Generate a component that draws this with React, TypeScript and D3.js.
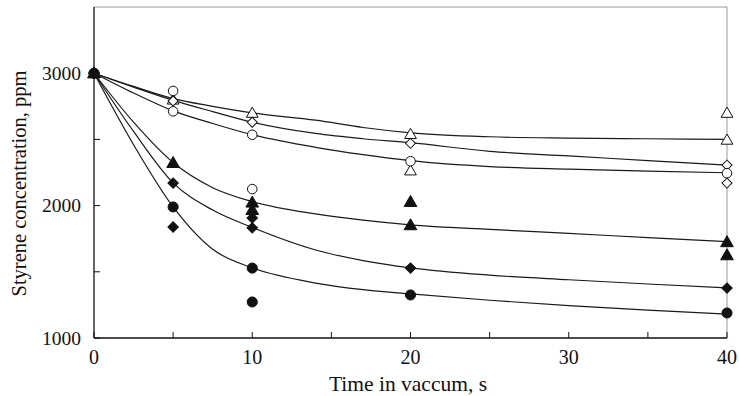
import React, { useEffect, useRef } from 'react';
import * as d3 from 'd3';

// fitted curves (time s, ppm)
const curveTimes = [0, 2.5, 5, 7.5, 10, 14, 17, 20, 25, 30, 35, 40];
const curveOpenTriangle = [3000, 2900, 2808, 2750, 2700, 2645, 2590, 2550, 2520, 2510, 2505, 2500];
const curveOpenDiamond = [3000, 2895, 2795, 2710, 2630, 2545, 2505, 2475, 2410, 2375, 2340, 2305];
const curveOpenCircle = [3000, 2850, 2715, 2620, 2535, 2440, 2385, 2340, 2295, 2275, 2260, 2248];
const curveFilledTriangle = [3000, 2630, 2325, 2135, 2030, 1937, 1890, 1855, 1820, 1790, 1758, 1728];
const curveFilledDiamond = [3000, 2560, 2172, 1966, 1835, 1665, 1585, 1530, 1475, 1440, 1408, 1378];
const curveFilledCircle = [3000, 2460, 1990, 1670, 1530, 1415, 1365, 1333, 1285, 1245, 1210, 1180];

// measured points
const ptsOpenTriangle: [number, number][] = [[0, 3000], [5, 2800], [10, 2700], [20, 2540], [20, 2265], [40, 2700], [40, 2497]];
const ptsOpenDiamond: [number, number][] = [[0, 3000], [5, 2790], [10, 2630], [20, 2470], [40, 2306], [40, 2170]];
const ptsOpenCircle: [number, number][] = [[0, 3000], [5, 2866], [5, 2712], [10, 2535], [10, 2125], [20, 2335], [40, 2245]];
const ptsFilledTriangle: [number, number][] = [[0, 3000], [5, 2323], [10, 2024], [10, 1968], [20, 2029], [20, 1853], [40, 1725], [40, 1626]];
const ptsFilledDiamond: [number, number][] = [[0, 3000], [5, 2170], [5, 1838], [10, 1907], [10, 1832], [20, 1528], [40, 1377]];
const ptsFilledCircle: [number, number][] = [[0, 3000], [5, 1990], [10, 1528], [10, 1272], [20, 1325], [40, 1189]];

const xTicks = [0, 5, 10, 15, 20, 25, 30, 35, 40];
const xLabels = [0, 10, 20, 30, 40];
const yTicks = [1000, 1500, 2000, 2500, 3000];
const yLabels = [1000, 2000, 3000];

const App = () => {
  const ref = useRef<SVGSVGElement>(null);

  useEffect(() => {
    const width = 739;
    const height = 396;
    const svg = d3.select(ref.current);
    svg.selectAll('*').remove();

    const x = d3.scaleLinear().domain([0, 40]).range([94, 727]);
    const y = d3.scaleLinear().domain([1000, 3500]).range([338, 7]);
    const font = '"Liberation Serif", "Times New Roman", serif';

    // frame: top/right grey, left/bottom black
    svg.append('line').attr('x1', x(0)).attr('x2', x(40)).attr('y1', y(3500)).attr('y2', y(3500))
      .attr('stroke', '#999').attr('stroke-width', 1);
    svg.append('line').attr('x1', x(40)).attr('x2', x(40)).attr('y1', y(3500)).attr('y2', y(1000))
      .attr('stroke', '#999').attr('stroke-width', 1);
    svg.append('line').attr('x1', x(0)).attr('x2', x(0)).attr('y1', y(3500)).attr('y2', y(1000))
      .attr('stroke', '#111').attr('stroke-width', 1.3);
    svg.append('line').attr('x1', x(0)).attr('x2', x(40)).attr('y1', y(1000)).attr('y2', y(1000))
      .attr('stroke', '#111').attr('stroke-width', 1.3);

    // ticks (inward)
    svg.selectAll('.xt').data(xTicks).enter().append('line')
      .attr('x1', d => x(d)).attr('x2', d => x(d))
      .attr('y1', y(1000)).attr('y2', y(1000) - 6)
      .attr('stroke', '#111');
    svg.selectAll('.yt').data(yTicks).enter().append('line')
      .attr('x1', x(0)).attr('x2', x(0) + 6)
      .attr('y1', d => y(d)).attr('y2', d => y(d))
      .attr('stroke', '#111');

    svg.selectAll('.xl').data(xLabels).enter().append('text')
      .attr('x', d => x(d)).attr('y', 364)
      .attr('text-anchor', 'middle')
      .attr('font-family', font).attr('font-size', 20)
      .attr('fill', '#111')
      .text(d => d);
    svg.selectAll('.yl').data(yLabels).enter().append('text')
      .attr('x', 81).attr('y', d => y(d))
      .attr('dy', '0.35em')
      .attr('text-anchor', 'end')
      .attr('font-family', font).attr('font-size', 19.5)
      .attr('fill', '#111')
      .text(d => d);

    svg.append('text')
      .attr('x', 408).attr('y', 391)
      .attr('text-anchor', 'middle')
      .attr('font-family', font).attr('font-size', 21.5)
      .attr('fill', '#111')
      .text('Time in vaccum, s');
    svg.append('text')
      .attr('transform', `translate(26,${(65 + 302) / 2}) rotate(-90)`)
      .attr('text-anchor', 'middle')
      .attr('font-family', font).attr('font-size', 20.5)
      .attr('fill', '#111')
      .text('Styrene concentration, ppm');

    // curves
    const curves = [curveOpenTriangle, curveOpenDiamond, curveOpenCircle,
      curveFilledTriangle, curveFilledDiamond, curveFilledCircle];
    const line = d3.line<number>()
      .x((_, i) => x(curveTimes[i]))
      .y(d => y(d))
      .curve(d3.curveMonotoneX);
    svg.selectAll('.curve').data(curves).enter().append('path')
      .attr('d', d => line(d))
      .attr('fill', 'none')
      .attr('stroke', '#1a1a1a')
      .attr('stroke-width', 1.2);

    // markers
    const series = [
      { pts: ptsOpenTriangle, type: d3.symbolTriangle, size: 60, filled: false, rot: 0, dy: 1 },
      { pts: ptsOpenDiamond, type: d3.symbolSquare, size: 50, filled: false, rot: 45, dy: 0 },
      { pts: ptsOpenCircle, type: d3.symbolCircle, size: 72, filled: false, rot: 0, dy: 0 },
      { pts: ptsFilledTriangle, type: d3.symbolTriangle, size: 70, filled: true, rot: 0, dy: 1 },
      { pts: ptsFilledDiamond, type: d3.symbolSquare, size: 55, filled: true, rot: 45, dy: 0 },
      { pts: ptsFilledCircle, type: d3.symbolCircle, size: 80, filled: true, rot: 0, dy: 0 },
    ];
    series.forEach(s => {
      const sym = d3.symbol().type(s.type).size(s.size);
      svg.append('g').selectAll('path').data(s.pts).enter().append('path')
        .attr('d', sym() as string)
        .attr('transform', d => `translate(${x(d[0])},${y(d[1]) + s.dy}) rotate(${s.rot})`)
        .attr('fill', s.filled ? '#111' : '#fff')
        .attr('stroke', '#111')
        .attr('stroke-width', 1);
    });

    svg.attr('width', width).attr('height', height);
  }, []);

  return (
    <svg ref={ref} width={739} height={396}
      style={{ position: 'absolute', left: 0, top: 0, background: '#fff' }} />
  );
};

export default App;
